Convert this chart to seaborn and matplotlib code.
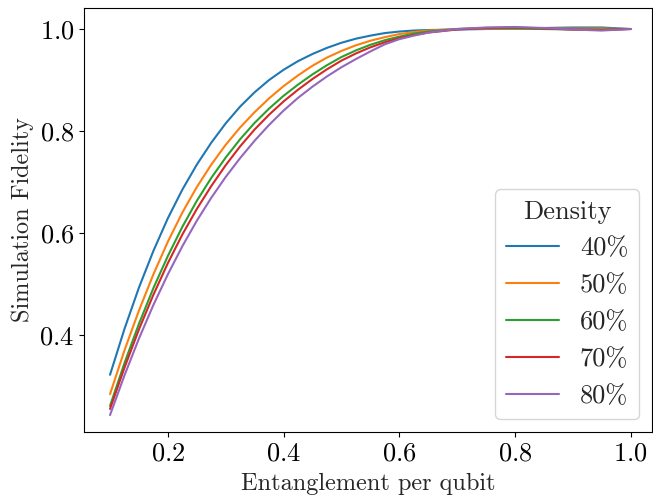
import matplotlib
matplotlib.use("Agg")
import matplotlib.pyplot as plt
import pandas as pd
import seaborn as sns

# Entanglement per qubit (shared x grid for every density)
entanglement = [0.1, 0.125, 0.15, 0.175, 0.2, 0.225, 0.25, 0.275, 0.3, 0.325,
                0.35, 0.375, 0.4, 0.425, 0.45, 0.475, 0.5, 0.525, 0.55, 0.575,
                0.6, 0.625, 0.65, 0.7, 0.75, 0.8, 0.85, 0.9, 0.95, 1.0]

# Simulation fidelity for each circuit density
fid_40 = [0.322, 0.412, 0.493, 0.565, 0.629, 0.685, 0.734, 0.777, 0.815, 0.848,
          0.876, 0.900, 0.920, 0.937, 0.951, 0.963, 0.973, 0.981, 0.987, 0.992,
          0.995, 0.997, 0.998, 0.999, 1.000, 1.001, 1.002, 1.003, 1.003, 1.000]
fid_50 = [0.284, 0.370, 0.448, 0.519, 0.583, 0.640, 0.690, 0.734, 0.773, 0.807,
          0.837, 0.864, 0.888, 0.909, 0.928, 0.944, 0.957, 0.968, 0.977, 0.984,
          0.990, 0.994, 0.997, 1.000, 1.001, 1.001, 1.001, 1.001, 1.001, 1.000]
fid_60 = [0.261, 0.345, 0.422, 0.492, 0.555, 0.612, 0.663, 0.708, 0.748, 0.784,
          0.816, 0.844, 0.869, 0.891, 0.911, 0.929, 0.945, 0.958, 0.969, 0.978,
          0.985, 0.991, 0.995, 1.000, 1.002, 1.001, 1.000, 0.999, 0.999, 1.000]
fid_70 = [0.255, 0.336, 0.411, 0.479, 0.541, 0.597, 0.647, 0.692, 0.733, 0.770,
          0.803, 0.832, 0.858, 0.881, 0.902, 0.921, 0.938, 0.952, 0.964, 0.974,
          0.982, 0.988, 0.993, 0.999, 1.002, 1.003, 1.001, 0.999, 0.998, 1.000]
fid_80 = [0.243, 0.321, 0.393, 0.459, 0.519, 0.574, 0.624, 0.669, 0.710, 0.747,
          0.781, 0.812, 0.840, 0.865, 0.887, 0.907, 0.925, 0.941, 0.956, 0.970,
          0.980, 0.987, 0.993, 1.000, 1.003, 1.004, 1.002, 0.999, 0.997, 1.000]

densities = ["40%", "50%", "60%", "70%", "80%"]
series = [fid_40, fid_50, fid_60, fid_70, fid_80]

df = pd.concat(
    [pd.DataFrame({"Entanglement per qubit": entanglement,
                   "Simulation Fidelity": vals,
                   "Density": d})
     for d, vals in zip(densities, series)],
    ignore_index=True,
)

sns.set_style("ticks")
plt.rcParams.update({
    "font.family": "serif",
    "font.serif": ["cmr10"],
    "mathtext.fontset": "cm",
    "axes.formatter.use_mathtext": True,
    "axes.unicode_minus": False,
    "font.size": 19,
    "axes.edgecolor": "black",
    "xtick.color": "black",
    "ytick.color": "black",
})

fig = plt.figure(figsize=(6.53, 5.0), dpi=100)
ax = fig.add_axes([84 / 653, 68 / 500, 568 / 653, 424 / 500])

sns.lineplot(data=df, x="Entanglement per qubit", y="Simulation Fidelity",
             hue="Density", palette="tab10", linewidth=1.5, ax=ax)

ax.set_xlim(0.055, 1.037)
ax.set_ylim(0.2098, 1.0412)
ax.set_xticks([0.2, 0.4, 0.6, 0.8, 1.0])
ax.set_yticks([0.4, 0.6, 0.8, 1.0])
ax.tick_params(labelsize=19, direction="out", length=3.5, width=0.8)
ax.set_xlabel("Entanglement per qubit", fontsize=17.5, labelpad=5)
ax.set_ylabel("Simulation Fidelity", fontsize=17.5, labelpad=4)
for s in ax.spines.values():
    s.set_linewidth(0.8)

ax.legend(title="Density", fontsize=19, title_fontsize=19, loc="lower right")

fig.savefig("out.png", dpi=100)
